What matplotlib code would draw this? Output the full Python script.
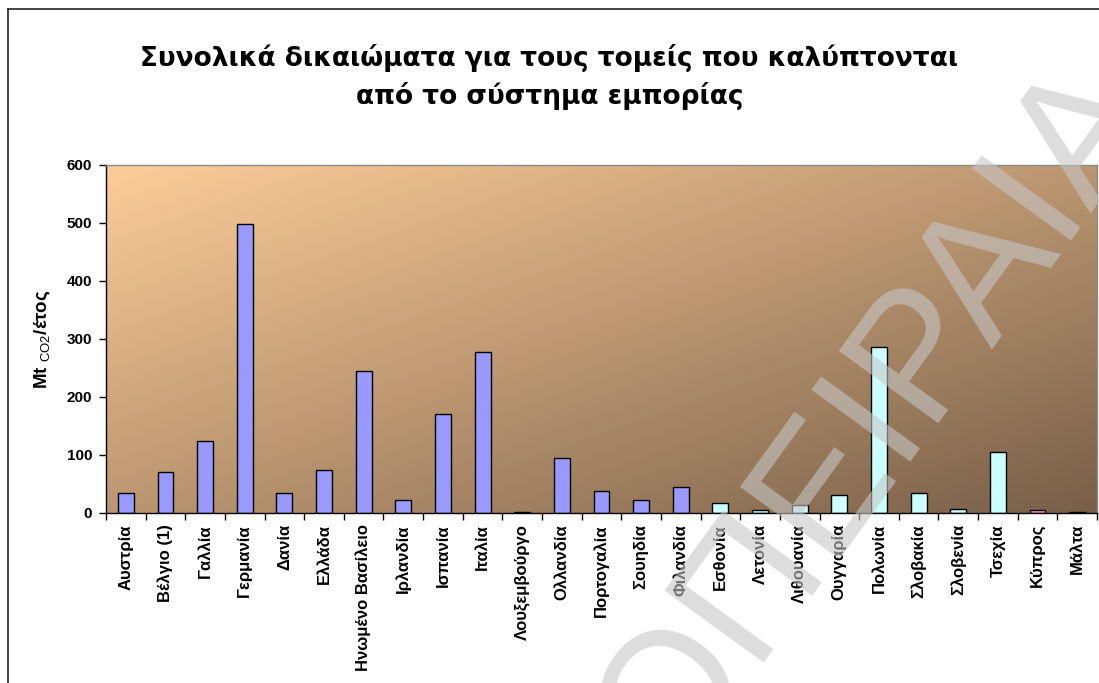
import numpy as np
import matplotlib
matplotlib.use("Agg")
import matplotlib.pyplot as plt
from matplotlib.lines import Line2D

plt.rcParams['font.family'] = ['Liberation Sans', 'DejaVu Sans']
plt.rcParams['mathtext.fontset'] = 'custom'
plt.rcParams['mathtext.rm'] = 'Liberation Sans'
plt.rcParams['mathtext.bf'] = 'Liberation Sans:bold'

# data
countries = ["Αυστρία", "Βέλγιο (1)", "Γαλλία", "Γερμανία", "Δανία", "Ελλάδα",
             "Ηνωμένο Βασίλειο", "Ιρλανδία", "Ισπανία", "Ιταλία", "Λουξεμβούργο",
             "Ολλανδία", "Πορτογαλία", "Σουηδία", "Φιλανδία", "Εσθονία", "Λετονία",
             "Λιθουανία", "Ουγγαρία", "Πολωνία", "Σλοβακία", "Σλοβενία", "Τσεχία",
             "Κύπρος", "Μάλτα"]
allowances = [34, 70, 124, 498, 34, 74, 244, 23, 171, 278, 2.5,
              95, 38.5, 23, 44, 18, 5, 13,
              31, 286, 34, 7.5, 106, 5, 2.5]
groups = ["old"] * 15 + ["new"] * 8 + ["cy", "mt"]

group_colors = {"old": "#9999FF", "new": "#CCFFFF", "cy": "#FF99CC", "mt": "#333333"}
title = "Συνολικά δικαιώματα για τους τομείς που καλύπτονται\nαπό το σύστημα εμπορίας"

fig = plt.figure(figsize=(10.99, 6.83), dpi=100)
W, H = 1099, 683
ax = fig.add_axes([106 / W, 1 - 513 / H, (1097 - 106) / W, (513 - 165) / H])

# diagonal gradient background, light peach top-left -> dark brown bottom-right
c0 = np.array([253, 205, 153]) / 255
c1 = np.array([120, 95, 72]) / 255
u = np.linspace(0, 1, 400)
v = np.linspace(0, 1, 200)
U, V = np.meshgrid(u, v)
t = (U + V) / 2
grad = c0[None, None, :] * (1 - t[..., None]) + c1[None, None, :] * t[..., None]
ax.imshow(grad, extent=[0, 1, 0, 1], transform=ax.transAxes, aspect='auto',
          zorder=0, origin='upper', interpolation='bilinear')

x = np.arange(len(countries))
ax.bar(x, allowances, width=0.4, color=[group_colors[g] for g in groups],
       edgecolor='black', linewidth=1.0, zorder=2)

ax.set_xlim(-0.5, len(countries) - 0.5)
ax.set_ylim(0, 600)
ax.set_yticks(range(0, 601, 100))
ax.set_xticks(x)
ax.set_xticklabels(countries, rotation=90, fontsize=12, fontweight='bold')
ax.set_xticks(np.arange(-0.5, len(countries), 1), minor=True)
ax.tick_params(axis='x', which='major', length=0, pad=8)
ax.tick_params(axis='x', which='minor', length=5, width=1, direction='out')
ax.tick_params(axis='y', length=5, width=1, direction='out', pad=5)
for lab in ax.get_yticklabels():
    lab.set_fontweight('bold')
    lab.set_fontsize(11)

ax.set_ylabel("Mt $_{\\mathrm{CO2}}$/έτος", fontsize=13.5, fontweight='bold')
ax.yaxis.set_label_coords(-0.053, 0.5)

for s in ['left', 'bottom']:
    ax.spines[s].set_color('black')
    ax.spines[s].set_linewidth(1.0)
for s in ['top', 'right']:
    ax.spines[s].set_color('#8a8a8a')
    ax.spines[s].set_linewidth(1.0)

fig.text(0.5, 1 - 77 / H, title, ha='center', va='center', fontsize=19,
         fontweight='bold', family='DejaVu Sans', linespacing=1.5)

# outer chart frame (left and top edges visible)
fig.add_artist(Line2D([7.5 / W, 7.5 / W], [0, 1 - 8.5 / H], transform=fig.transFigure,
                      color='#222222', lw=1.2))
fig.add_artist(Line2D([7.5 / W, 1], [1 - 8.5 / H, 1 - 8.5 / H], transform=fig.transFigure,
                      color='#222222', lw=1.2))

# watermark
fig.text(915 / W, 1 - 445 / H, "ΟΠΕΙΡΑΙΑ", rotation=54, rotation_mode='anchor',
         ha='center', va='baseline', fontsize=128, color='#c6c6c6', alpha=0.6,
         family='Liberation Sans', zorder=10)

fig.savefig("out.png", dpi=100)
